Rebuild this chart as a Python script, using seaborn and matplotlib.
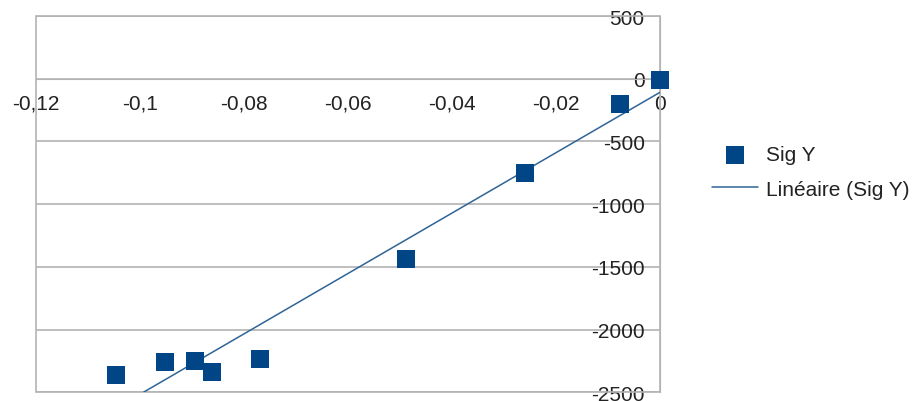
import matplotlib
matplotlib.use("Agg")
import matplotlib.pyplot as plt
import seaborn as sns
import numpy as np
import pandas as pd
from matplotlib.patches import Rectangle
from matplotlib.ticker import FuncFormatter

# ---- data ----
sig_x = [0.0, -0.0077, -0.0259, -0.0488, -0.0769, -0.0862, -0.0894, -0.0952, -0.1046]
sig_y = [-10, -201, -752, -1439, -2234, -2340, -2247, -2257, -2366]
series_label = "Sig Y"
trend_label = "Linéaire (Sig Y)"
x_ticks = [-0.12, -0.10, -0.08, -0.06, -0.04, -0.02, 0.0]
y_ticks = [500, 0, -500, -1000, -1500, -2000, -2500]

df = pd.DataFrame({"x": sig_x, "y": sig_y})

sns.set_style("white")
plt.rcParams["font.family"] = ["Liberation Sans", "DejaVu Sans"]
plt.rcParams["axes.unicode_minus"] = False

W, H = 918, 402
fig = plt.figure(figsize=(W / 100, H / 100), dpi=100)
left, right, top, bottom = 36, 660, 17, 393.3
ax = fig.add_axes([left / W, 1 - bottom / H, (right - left) / W, (bottom - top) / H])

blue = "#004586"
grey = "#b3b3b3"
txt = "#222222"
fs = 15

sns.scatterplot(data=df, x="x", y="y", marker="s", s=150, color=blue,
                linewidth=0, ax=ax, label=series_label, zorder=4)
for c in ax.collections:
    c.set_clip_on(False)
sns.regplot(data=df, x="x", y="y", scatter=False, ci=None, ax=ax,
            color="#2f6497", line_kws={"lw": 1.1, "zorder": 3},
            label=trend_label)

ax.set_xlim(-0.12, 0)
ax.set_ylim(-2500, 500)
ax.set_xlabel("")
ax.set_ylabel("")

# axes crossing at origin
for s in ["top", "right"]:
    ax.spines[s].set_visible(False)
ax.spines["left"].set_position(("data", 0))
ax.spines["bottom"].set_position(("data", 0))
ax.spines["left"].set_color(grey)
ax.spines["bottom"].set_color(grey)
ax.spines["left"].set_zorder(2)

ax.add_patch(Rectangle((0, 0), 1, 1, transform=ax.transAxes, fill=False,
                       ec=grey, lw=1.2, clip_on=False, zorder=1))

ax.set_xticks(x_ticks)
ax.set_yticks(y_ticks)
fmt = FuncFormatter(lambda v, p: ("%g" % round(v, 4)).replace(".", ","))
ax.xaxis.set_major_formatter(fmt)
ax.yaxis.set_major_formatter(FuncFormatter(lambda v, p: "%d" % v))

ax.yaxis.grid(True, color=grey, lw=1.2)
ax.xaxis.grid(False)
ax.set_axisbelow(True)

ax.tick_params(axis="x", direction="out", length=6, width=1.2, color=grey,
               labelsize=fs, labelcolor=txt, pad=5)
ax.tick_params(axis="y", direction="out", length=0, width=1.2, color=grey,
               labelsize=fs, labelcolor=txt, pad=11)

h, l = ax.get_legend_handles_labels()
if ax.get_legend():
    ax.get_legend().remove()
fig.legend(h, l, loc="upper left", bbox_to_anchor=(712 / W, 1 - 146 / H),
           frameon=False, fontsize=fs, handlelength=2.2, handletextpad=0.4,
           labelspacing=0.75, borderpad=0, borderaxespad=0, labelcolor=txt)

fig.savefig("out.png", dpi=100)
